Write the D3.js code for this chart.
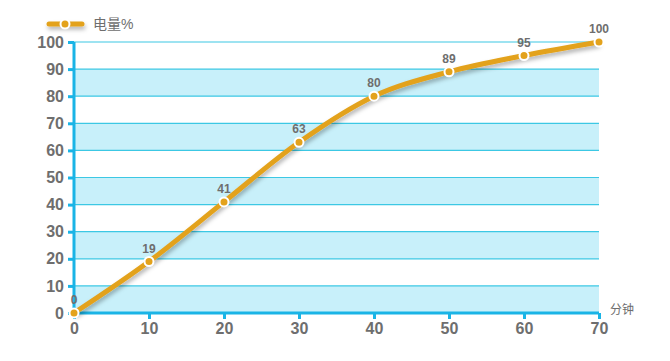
<!DOCTYPE html>
<html>
<head>
<meta charset="utf-8">
<script src="https://cdn.jsdelivr.net/npm/d3@7"></script>
<style>
body { margin:0; background:#fff; }
svg { display:block; font-family:Arial, "Liberation Sans", "Noto Sans CJK SC", sans-serif; }
</style>
</head>
<body>
<svg width="670" height="361"></svg>
<script>
var minutes = [0, 10, 20, 30, 40, 50, 60, 70];
var battery = [0, 19, 41, 63, 80, 89, 95, 100];
var yTicks = [0, 10, 20, 30, 40, 50, 60, 70, 80, 90, 100];
var xTicks = [0, 10, 20, 30, 40, 50, 60, 70];
var seriesName = "电量%";
var xName = "分钟";

var svg = d3.select("svg");
var x = d3.scaleLinear().domain([0, 70]).range([74, 599]);
var y = d3.scaleLinear().domain([0, 100]).range([313, 42]);

// shadow for the line
var defs = svg.append("defs");
var f = defs.append("filter").attr("id", "sh").attr("filterUnits", "userSpaceOnUse")
            .attr("x", 0).attr("y", 0).attr("width", 670).attr("height", 361);
f.append("feDropShadow").attr("dx", 1).attr("dy", 3).attr("stdDeviation", 2).attr("flood-color", "#000").attr("flood-opacity", 0.3);

// alternating bands
var bands = yTicks.slice(0, -1).filter(function(d, i) { return i % 2 == 0; });
svg.selectAll("rect.band").data(bands).enter().append("rect")
   .attr("x", x(0)).attr("width", x(70) - x(0))
   .attr("y", function(d) { return y(d + 10); })
   .attr("height", function(d) { return y(d) - y(d + 10); })
   .attr("fill", "#c8f0fa");

// grid lines
svg.selectAll("line.grid").data(yTicks).enter().append("line")
   .attr("x1", x(0)).attr("x2", x(70))
   .attr("y1", function(d) { return y(d); }).attr("y2", function(d) { return y(d); })
   .attr("stroke", "#3cc8e4").attr("stroke-width", 1.2);

// axes
var yAxis = d3.axisLeft(y).tickValues(yTicks).tickSize(6).tickPadding(4);
var gy = svg.append("g").attr("transform", "translate(" + x(0) + ",0)").call(yAxis);
var xAxis = d3.axisBottom(x).tickValues(xTicks).tickSize(6).tickPadding(4);
var gx = svg.append("g").attr("transform", "translate(0," + y(0) + ")").call(xAxis);
[gy, gx].forEach(function(g) {
  g.select(".domain").attr("stroke", "#1ab4e6").attr("stroke-width", 3);
  g.selectAll(".tick line").attr("stroke", "#1ab4e6").attr("stroke-width", 3);
  g.selectAll(".tick text").attr("fill", "#6e6e6e").attr("font-size", 16).attr("font-weight", "bold");
});
gy.select(".domain").attr("d", "M0," + y(0) + "V" + y(100));
gx.select(".domain").attr("d", "M" + x(0) + ",0H" + x(70));

svg.append("text").attr("x", 610).attr("y", 314).attr("fill", "#6e6e6e")
   .attr("font-size", 12).text(xName);

// line
var pts = minutes.map(function(d, i) { return [d, battery[i]]; });
var line = d3.line().x(function(d) { return x(d[0]); }).y(function(d) { return y(d[1]); })
             .curve(d3.curveMonotoneX);
svg.append("path").datum(pts).attr("d", line)
   .attr("fill", "none").attr("stroke", "#e3a21c").attr("stroke-width", 5)
   .attr("stroke-linejoin", "round").attr("filter", "url(#sh)");

svg.selectAll("circle.pt").data(pts).enter().append("circle")
   .attr("cx", function(d) { return x(d[0]); }).attr("cy", function(d) { return y(d[1]); })
   .attr("r", 4.5).attr("fill", "#e3a21c").attr("stroke", "#fff").attr("stroke-width", 2);

svg.selectAll("text.lbl").data(pts).enter().append("text")
   .attr("x", function(d) { return x(d[0]); }).attr("y", function(d) { return y(d[1]) - 9; })
   .attr("text-anchor", "middle").attr("fill", "#6e6e6e").attr("font-size", 12).attr("font-weight", "bold")
   .text(function(d) { return d[1]; });

// legend
var lg = svg.append("g");
lg.append("line").attr("x1", 49).attr("x2", 82).attr("y1", 24).attr("y2", 24)
  .attr("stroke", "#e3a21c").attr("stroke-width", 5).attr("stroke-linecap", "round").attr("filter", "url(#sh)");
lg.append("circle").attr("cx", 65).attr("cy", 24).attr("r", 4.5)
  .attr("fill", "#e3a21c").attr("stroke", "#fff").attr("stroke-width", 2);
lg.append("text").attr("x", 93).attr("y", 29).attr("fill", "#6e6e6e").attr("font-size", 14).text(seriesName);
</script>
</body>
</html>
